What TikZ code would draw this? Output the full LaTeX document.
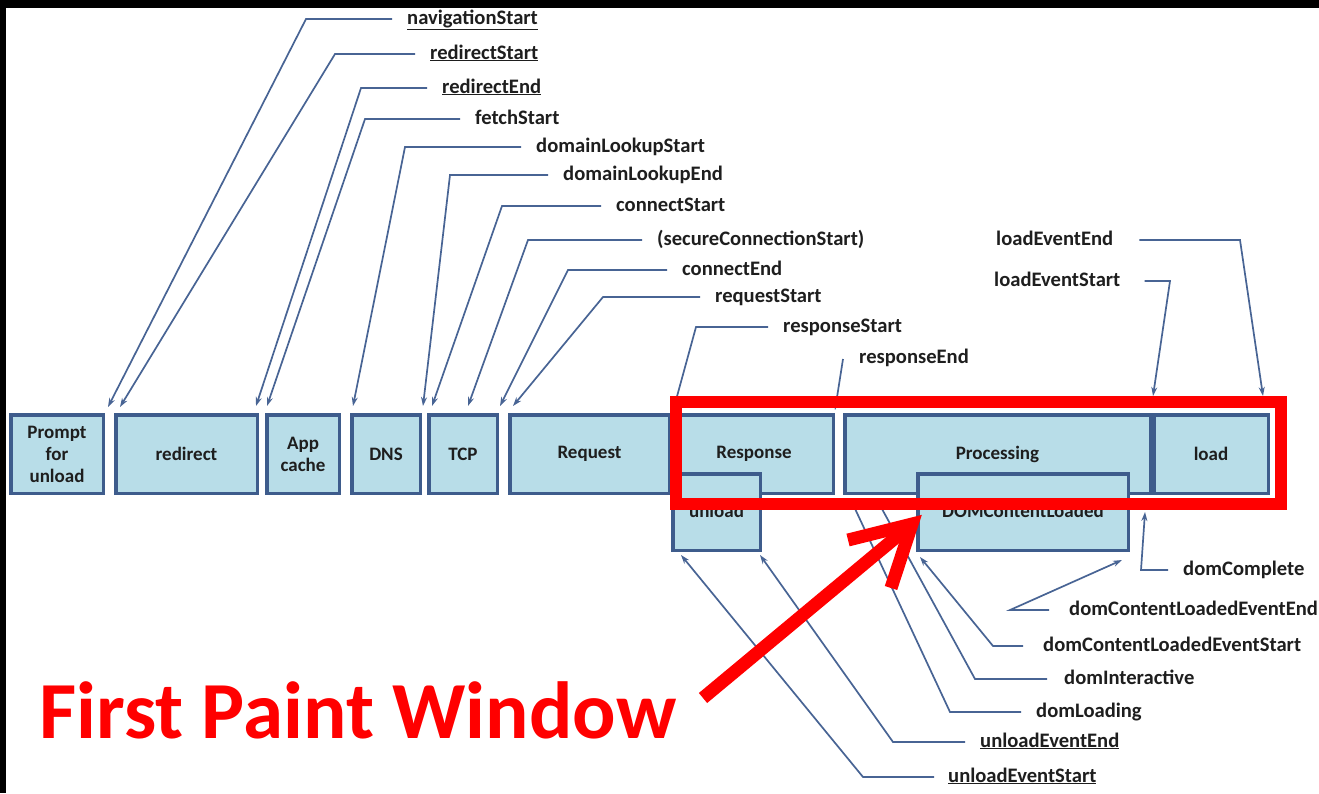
\documentclass[tikz,border=0pt]{standalone}
\usepackage{fontspec}
\setmainfont{Carlito}
\usetikzlibrary{arrows.meta}
\definecolor{boxfill}{RGB}{184,221,232}
\definecolor{boxline}{RGB}{62,92,140}
\definecolor{connc}{RGB}{72,100,148}
\definecolor{hl}{RGB}{255,0,0}
\definecolor{ink}{RGB}{30,30,30}
\begin{document}
\begin{tikzpicture}[x=1pt,y=-1pt,
  box/.style={draw=boxline, fill=boxfill, line width=3.5pt, inner sep=0pt,
    font=\fontsize{19}{22}\selectfont\bfseries, text=ink, align=center},
  lbl/.style={inner sep=0pt, text height=15pt, text depth=5pt,
    font=\fontsize{20.6}{23}\selectfont\bfseries, text=ink},
  conn/.style={draw=connc, line width=1.7pt, -{Stealth[length=9pt,width=6pt]}},
  bigred/.style={draw=hl, line width=13pt},
]
% canvas with the dark frame strips
\useasboundingbox (0,0) rectangle (1319,793);
\fill[white] (0,0) rectangle (1319,793);
\fill[black] (0,0) rectangle (1319,8);
\fill[black] (0,0) rectangle (6,793);

% main timeline row
\node[box, minimum width=92.5pt, minimum height=78.5pt] (prompt) at (57,454) {Prompt\\for\\unload};
\node[box, minimum width=141.5pt, minimum height=78.5pt] (redir) at (186.5,454) {redirect};
\node[box, minimum width=72.5pt, minimum height=78.5pt] (appc) at (303,454) {App\\cache};
\node[box, minimum width=68.5pt, minimum height=78.5pt] (dns) at (386,454) {DNS};
\node[box, minimum width=68.5pt, minimum height=78.5pt] (tcp) at (463,454) {TCP};
\node[box, minimum width=159.5pt, minimum height=78.5pt] (req) at (589.5,454) {Request};
\node[box, minimum width=158.5pt, minimum height=78.5pt] (resp) at (754,454) {Response};
\node[box, minimum width=305.5pt, minimum height=78.5pt] (proc) at (997.5,454) {Processing};
\node[box, minimum width=114.5pt, minimum height=78.5pt] (load) at (1211,454) {load};

% second row (names sit low, partly under the highlight frame)
\node[box, minimum width=87.5pt, minimum height=76.5pt] (unl) at (716.5,512)
  {\raisebox{-5pt}[0pt][0pt]{unload}};
\node[box, minimum width=210.5pt, minimum height=76.5pt] (dcl) at (1023,512)
  {\raisebox{-5pt}[0pt][0pt]{DOMContentLoaded}};

% event labels
\node[lbl, anchor=west] (navS) at (407,19) {\underline{navigationStart}};
\node[lbl, anchor=west] (redS) at (430,54) {\underline{redirectStart}};
\node[lbl, anchor=west] (redE) at (442,88) {\underline{redirectEnd}};
\node[lbl, anchor=west] (fetS) at (475,119) {fetchStart};
\node[lbl, anchor=west] (dlS) at (536,147) {domainLookupStart};
\node[lbl, anchor=west] (dlE) at (563,175) {domainLookupEnd};
\node[lbl, anchor=west] (conS) at (616,206) {connectStart};
\node[lbl, anchor=west] (secS) at (657,240) {(secureConnectionStart)};
\node[lbl, anchor=west] (conE) at (682,270) {connectEnd};
\node[lbl, anchor=west] (reqS) at (715,297) {requestStart};
\node[lbl, anchor=west] (resS) at (783,327) {responseStart};
\node[lbl, anchor=west] (resE) at (859,358) {responseEnd};
\node[lbl, anchor=west] (leE) at (996,240) {loadEventEnd};
\node[lbl, anchor=west] (leS) at (994,281) {loadEventStart};
\node[lbl, anchor=west] (dComp) at (1183,570) {domComplete};
\node[lbl, anchor=west] (dclEE) at (1069,610) {domContentLoadedEventEnd};
\node[lbl, anchor=west] (dclES) at (1043,646) {domContentLoadedEventStart};
\node[lbl, anchor=west] (dInt) at (1064,679) {domInteractive};
\node[lbl, anchor=west] (dLoad) at (1036,712) {domLoading};
\node[lbl, anchor=west] (uEE) at (980,742) {\underline{unloadEventEnd}};
\node[lbl, anchor=west] (uES) at (948,777) {\underline{unloadEventStart}};

% arrow targets on the boxes
\coordinate (t-nav) at (108,407);
\coordinate (t-redS) at (120,407);
\coordinate (t-redE) at (256,406);
\coordinate (t-fet) at (267,406);
\coordinate (t-dlS) at (353,406);
\coordinate (t-dlE) at (423,406);
\coordinate (t-conS) at (432,406);
\coordinate (t-sec) at (468,406);
\coordinate (t-conE) at (500,406);
\coordinate (t-req) at (513,406);
\coordinate (t-resS) at (673,411);
\coordinate (t-resE) at (835,410);
\coordinate (t-leE) at (1263,396);
\coordinate (t-leS) at (1153,396);
\coordinate (t-comp) at (1145,512);
\coordinate (t-dclEE) at (1122,560);
\coordinate (t-dclES) at (920,557);
\coordinate (t-int) at (876,498);
\coordinate (t-load) at (850,498);
\coordinate (t-uEE) at (760,555);
\coordinate (t-uES) at (681,555);

% connectors
\draw[conn] ([xshift=-15pt]navS.west) -- (306,0 |- navS.west) -- (t-nav);
\draw[conn] ([xshift=-15pt]redS.west) -- (335,0 |- redS.west) -- (t-redS);
\draw[conn] ([xshift=-15pt]redE.west) -- (361,0 |- redE.west) -- (t-redE);
\draw[conn] ([xshift=-15pt]fetS.west) -- (365,0 |- fetS.west) -- (t-fet);
\draw[conn] ([xshift=-15pt]dlS.west) -- (405,0 |- dlS.west) -- (t-dlS);
\draw[conn] ([xshift=-15pt]dlE.west) -- (450,0 |- dlE.west) -- (t-dlE);
\draw[conn] ([xshift=-15pt]conS.west) -- (502,0 |- conS.west) -- (t-conS);
\draw[conn] ([xshift=-15pt]secS.west) -- (528,0 |- secS.west) -- (t-sec);
\draw[conn] ([xshift=-15pt]conE.west) -- (568,0 |- conE.west) -- (t-conE);
\draw[conn] ([xshift=-15pt]reqS.west) -- (603,0 |- reqS.west) -- (t-req);
\draw[conn] ([xshift=-15pt]resS.west) -- (696,0 |- resS.west) -- (t-resS);
\draw[conn] ([xshift=-16pt,yshift=-1pt]resE.west) -- (t-resE);
\draw[conn] ([xshift=26pt]leE.east) -- (1240,0 |- leE.east) -- (t-leE);
\draw[conn] ([xshift=24pt]leS.east) -- (1170,0 |- leS.east) -- (t-leS);
\draw[conn] ([xshift=-15pt]dComp.west) -- (1141,0 |- dComp.west) -- (t-comp);
\draw[conn] ([xshift=-20pt]dclEE.west) -- (1010,0 |- dclEE.west) -- (t-dclEE);
\draw[conn] ([xshift=-20pt]dclES.west) -- (993,0 |- dclES.west) -- (t-dclES);
\draw[conn] ([xshift=-17pt]dInt.west) -- (975,0 |- dInt.west) -- (t-int);
\draw[conn] ([xshift=-15pt]dLoad.west) -- (950,0 |- dLoad.west) -- (t-load);
\draw[conn] ([xshift=-15pt]uEE.west) -- (893,0 |- uEE.west) -- (t-uEE);
\draw[conn] ([xshift=-14pt]uES.west) -- (863,0 |- uES.west) -- (t-uES);

% highlighted window and call-out
\draw[draw=hl, line width=12pt] (676,402) rectangle (1281,504);
\node[anchor=base west, inner sep=0pt, text=hl,
  font=\fontsize{81}{86}\selectfont\bfseries] (fpw) at (39,738) {First Paint Window};
\coordinate (rtail) at (703,698);
\coordinate (rtip) at (912,524);
\draw[bigred] (rtail) -- (rtip);
\draw[bigred, line join=miter] (848,540) -- (rtip) -- (891,588);
\end{tikzpicture}
\end{document}
